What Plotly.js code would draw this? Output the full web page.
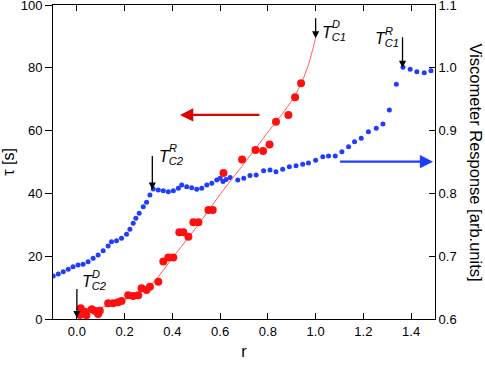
<!DOCTYPE html>
<html>
<head>
<meta charset="utf-8">
<script src="https://cdn.plot.ly/plotly-3.0.1.min.js"></script>
<style>
  html, body { margin: 0; padding: 0; background: #fff; }
  #chart { width: 485px; height: 366px; }
</style>
</head>
<body>
<div id="chart"></div>
<script>
// relaxation time tau (left axis)
const tauR = [0.013, 0.016, 0.034, 0.04, 0.062, 0.075, 0.089, 0.096, 0.131, 0.152, 0.173, 0.187,
    0.215, 0.236, 0.257, 0.271, 0.292, 0.306, 0.341, 0.362, 0.383, 0.404, 0.429, 0.446, 0.467,
    0.488, 0.509, 0.551, 0.569, 0.614, 0.692, 0.748, 0.780, 0.807, 0.834, 0.886, 0.914, 0.939];
const tauVal = [1.3, 3.4, 2.3, 1.2, 3.1, 2.6, 1.6, 2.6, 5.0, 5.0, 5.3, 5.7,
    7.6, 7.3, 7.6, 9.8, 9.2, 10.3, 11.9, 18.3, 19.6, 19.6, 27.6, 27.6, 26.2,
    30.8, 30.8, 34.7, 34.7, 46.5, 50.8, 53.8, 53.5, 55.6, 62.8, 65.0, 70.6, 75.1];

// fit curve through tau
const fitR = [0, 0.05, 0.1, 0.15, 0.2, 0.25, 0.3, 0.33, 0.4, 0.5, 0.6, 0.7, 0.8, 0.85, 0.9, 0.94, 0.97, 0.99, 1.0];
const fitTau = [1.5, 2.5, 3.6, 4.8, 6.2, 8.0, 10.3, 12.4, 19.4, 29.2, 39.7, 49.5, 59.5, 64.3, 69.5, 75, 81, 86.5, 89.5];

// viscometer response (right axis)
const viscR = [-0.099, -0.078, -0.057, -0.036, -0.016, 0.005, 0.026, 0.047, 0.068, 0.089, 0.110,
    0.131, 0.145, 0.166, 0.187, 0.208, 0.222, 0.236, 0.247, 0.261, 0.278, 0.292, 0.306, 0.320,
    0.341, 0.362, 0.383, 0.404, 0.425, 0.439, 0.460, 0.481, 0.502, 0.523, 0.544, 0.565, 0.586,
    0.600, 0.612, 0.625, 0.642, 0.674, 0.699, 0.725, 0.751, 0.782, 0.809, 0.834, 0.862, 0.890,
    0.918, 0.946, 0.970, 1.000, 1.030, 1.054, 1.082, 1.110, 1.138, 1.163, 1.191, 1.221, 1.254,
    1.282, 1.309, 1.338, 1.366, 1.396, 1.424, 1.455, 1.483];
const viscVal = [0.6685, 0.6717, 0.6753, 0.6791, 0.6833, 0.686, 0.6871, 0.6912, 0.6967, 0.7019, 0.7088,
    0.7162, 0.7231, 0.7247, 0.7285, 0.7349, 0.7428, 0.7524, 0.7604, 0.7683, 0.7788, 0.7858, 0.7975, 0.807,
    0.8054, 0.8043, 0.8027, 0.8043, 0.8081, 0.8134, 0.8107, 0.8091, 0.8065, 0.8081, 0.8134, 0.8161, 0.8213,
    0.824, 0.819, 0.822, 0.8253, 0.8213, 0.824, 0.8285, 0.8293, 0.836, 0.8373, 0.8346, 0.8384, 0.8425,
    0.8441, 0.8465, 0.8484, 0.8527, 0.8584, 0.8596, 0.8596, 0.8664, 0.8744, 0.8823, 0.8877, 0.8982, 0.9037,
    0.9105, 0.9328, 0.9737, 1.0008, 0.9976, 0.9938, 0.9922, 0.9954];

const xTicks = [0, 0.2, 0.4, 0.6, 0.8, 1.0, 1.2, 1.4];
const tauTicks = [0, 20, 40, 60, 80, 100];
const viscTicks = [0.6, 0.7, 0.8, 0.9, 1.0, 1.1];

const FONT = "Liberation Sans, Arial, Helvetica, sans-serif";
const BLUE = "#1f3cff";
const RED = "#ff1010";

// transition labels: T, subscript, superscript
const labels = [
    { x: 1.0, tip: 89.4, tail: 96.3, ref: "y2", lx: 1.02, ly: 91, sub: "C1", sup: "D" },
    { x: 1.364, tip: 1.0, tail: 1.051, ref: "y", lx: 1.24, ly: 1.045, sub: "C1", sup: "R" },
    { x: 0.316, tip: 0.806, tail: 0.862, ref: "y", lx: 0.335, ly: 0.858, sub: "C2", sup: "R" },
    { x: 0.0, tip: 0.3, tail: 10, ref: "y2", lx: 0.015, ly: 11.5, sub: "C2", sup: "D" },
];

const annotations = [];
for (const l of labels) {
    annotations.push({
        x: l.x, y: l.tip, ax: l.x, ay: l.tail, xref: "x", yref: l.ref, axref: "x", ayref: l.ref,
        showarrow: true, arrowhead: 2, arrowsize: 1.1, arrowwidth: 1.3, arrowcolor: "#000",
        standoff: 0, text: "",
    });
    annotations.push({
        x: l.lx, y: l.ly, xref: "x", yref: l.ref, xanchor: "left", yanchor: "middle",
        showarrow: false, text: "<i>T<sub>" + l.sub + "</sub></i>",
        font: { family: FONT, size: 16, color: "#000" },
    });
    annotations.push({
        x: l.lx, y: l.ly, xref: "x", yref: l.ref, xanchor: "left", yanchor: "middle",
        xshift: 10, yshift: 9, showarrow: false, text: "<i>" + l.sup + "</i>",
        font: { family: FONT, size: 11, color: "#000" },
    });
}
// direction arrows
annotations.push({
    x: 0.432, y: 65, ax: 0.771, ay: 65, xref: "x", yref: "y2", axref: "x", ayref: "y2",
    showarrow: true, arrowhead: 2, arrowsize: 1.2, arrowwidth: 2.2, arrowcolor: "#dd0000",
    standoff: 0, text: "",
});
annotations.push({
    x: 1.492, y: 0.8505, ax: 1.096, ay: 0.8505, xref: "x", yref: "y", axref: "x", ayref: "y",
    showarrow: true, arrowhead: 2, arrowsize: 1.2, arrowwidth: 2.2, arrowcolor: BLUE,
    standoff: 0, text: "",
});
// right axis title
annotations.push({
    x: 1.135, y: 0.5, xref: "paper", yref: "paper", showarrow: false, textangle: 90,
    text: "Viscometer Response [arb.units]", font: { family: FONT, size: 16.5, color: "#000" },
});

const traces = [
    {
        x: viscR, y: viscVal, yaxis: "y", mode: "markers", type: "scatter",
        marker: { color: BLUE, size: 5 }, showlegend: false,
    },
    {
        x: fitR, y: fitTau, yaxis: "y2", mode: "lines", type: "scatter",
        line: { color: "#ff5a5a", width: 1, shape: "spline", smoothing: 0.5 }, showlegend: false,
    },
    {
        x: tauR, y: tauVal, yaxis: "y2", mode: "markers", type: "scatter",
        marker: { color: RED, size: 8 }, showlegend: false,
    },
];

const layout = {
    width: 485, height: 366,
    margin: { l: 53, r: 50, t: 5, b: 47 },
    paper_bgcolor: "#fff", plot_bgcolor: "#fff",
    font: { family: FONT, size: 13, color: "#000" },
    showlegend: false,
    xaxis: {
        range: [-0.1, 1.5], tickvals: xTicks, tickformat: ".1f",
        ticks: "inside", ticklen: 6, tickwidth: 1, tickcolor: "#000",
        showline: true, linecolor: "#000", linewidth: 1, mirror: "ticks",
        showgrid: false, zeroline: false, ticklabeloverflow: "allow",
        title: { text: "r", font: { family: FONT, size: 16 }, standoff: 8 },
    },
    yaxis: {
        range: [0.6, 1.1001], side: "right", tickvals: viscTicks, tickformat: ".1f",
        ticks: "inside", ticklen: 6, tickwidth: 1, tickcolor: "#000",
        showline: true, linecolor: "#000", linewidth: 1,
        showgrid: false, zeroline: false, ticklabeloverflow: "allow",
    },
    yaxis2: {
        range: [0, 100.02], side: "left", overlaying: "y", tickvals: tauTicks,
        ticks: "outside", ticklen: 7, tickwidth: 1, tickcolor: "#000",
        showline: true, linecolor: "#000", linewidth: 1,
        showgrid: false, zeroline: false, ticklabeloverflow: "allow",
        title: { text: "τ [s]", font: { family: FONT, size: 16 }, standoff: 6 },
    },
    annotations: annotations,
};

Plotly.newPlot("chart", traces, layout, { displayModeBar: false, staticPlot: true });
</script>
</body>
</html>
